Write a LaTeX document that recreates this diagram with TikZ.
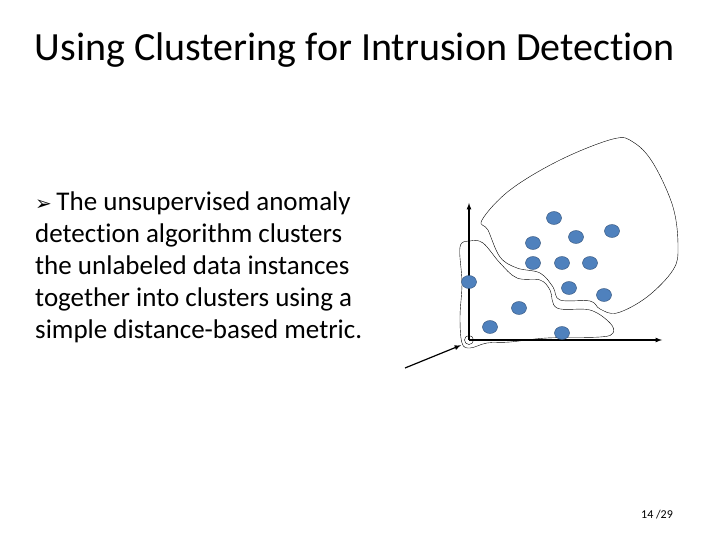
\documentclass[tikz,border=0pt]{standalone}
\usepackage{fontspec}
\usetikzlibrary{shapes.geometric}
\setmainfont{Carlito}[Ligatures=NoCommon]
\newfontfamily\symfont{DejaVu Sans}
\definecolor{dotblue}{HTML}{4F81BD}
\definecolor{dotline}{HTML}{2C4D75}
\begin{document}
\begin{tikzpicture}[x=1pt,y=-1pt]
    \tikzstyle{dot}=[draw=dotline, fill=dotblue, ellipse, minimum width=15pt, minimum height=13pt, inner sep=0pt]
    \tikzstyle{axis}=[very thick, -latex]
    \tikzstyle{bound}=[thin]
    \useasboundingbox (0,0) rectangle (720,540);

    % Title and text
    \node[font=\fontsize{40}{46}\selectfont] (title) at (355,50) {Using Clustering for Intrusion Detection};
    \node[anchor=north west, align=left, inner sep=0pt, font=\fontsize{27}{32}\selectfont] (body) at (35,192)
        {{\symfont\fontsize{20}{32}\selectfont ➢}\,The unsupervised anomaly\\ detection algorithm clusters\\ the unlabeled data instances\\ together into clusters using a\\ simple distance-based metric.};
    \node[font=\fontsize{12}{14}\selectfont] (page) at (657,515) {14 /29};

    % Axes
    \node[draw, circle, minimum size=9pt, inner sep=0pt] (orig) at (469,340) {};
    \coordinate (ytop) at (469,203);
    \coordinate (xend) at (662,340);
    \draw[axis] (469,340) -- (ytop);
    \draw[axis] (469,340) -- (xend);

    % Cluster boundaries
    \draw[bound] plot[smooth cycle, tension=0.6] coordinates {(482,220) (510,190) (560,160) (613,139) (633,142) (653,163) (673,207) (678,247) (673,270) (647,297) (617,313) (600,309) (590,301) (560,300) (553,287) (540,273) (517,268) (500,257) (488,230)};
    \draw[bound] plot[smooth cycle, tension=0.6] coordinates {(460,247) (470,241) (483,243) (500,263) (517,278) (540,280) (550,290) (557,308) (590,310) (610,323) (613,333) (600,337) (547,338) (510,342) (487,343) (470,348) (462,343) (460,317) (462,283)};

    % Data points
    \foreach \n/\p in {1/{554,218}, 2/{576,237}, 3/{612,231}, 4/{533,243}, 5/{533,263}, 6/{562,263}, 7/{590,263}, 8/{469,282}, 9/{569,288}, 10/{604,295}, 11/{519,308}, 12/{490,327}, 13/{562,333}} {
        \node[dot] (d\n) at (\p) {};
    }

    % Pointer
    \coordinate (tail) at (405,368);
    \draw[very thick, -latex, shorten >=5pt] (tail) -- (orig.south west);
\end{tikzpicture}
\end{document}
